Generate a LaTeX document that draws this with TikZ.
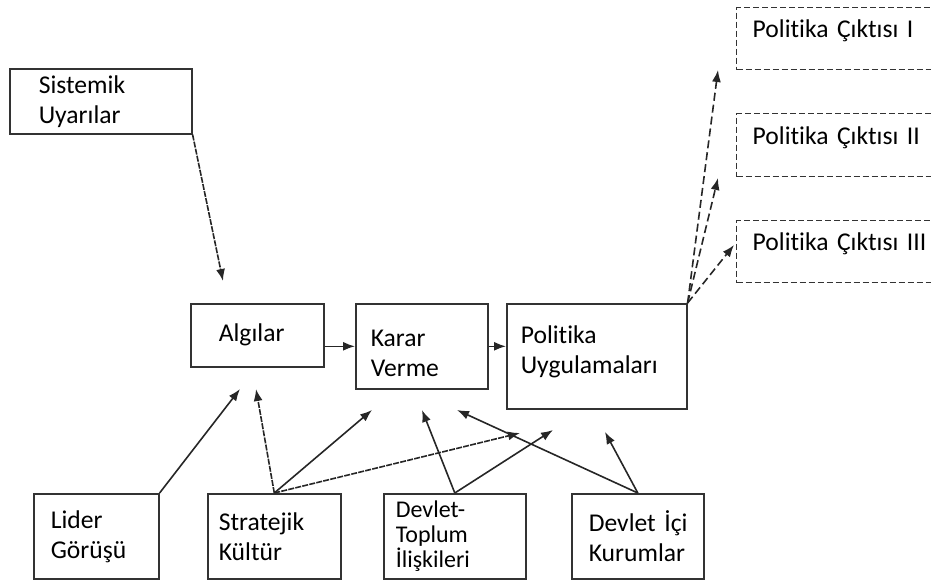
\documentclass[tikz,border=0pt]{standalone}
\usepackage{fontspec}
\setmainfont{Carlito}[Ligatures=NoCommon]
\usetikzlibrary{arrows.meta}

\tikzset{
  kutu/.style={draw=black!80, line width=0.8pt, rectangle, anchor=north west,
               align=left, inner ysep=0pt, font=\fontsize{12.8}{15}\selectfont},
  cikti/.style={kutu, dash pattern=on 3pt off 1.5pt, line width=0.7pt},
  ok/.style={-{Latex[length=6pt,width=4.5pt]}, line width=0.8pt, black!85},
  kesik/.style={ok, dash pattern=on 3pt off 0.6pt},
  cok/.style={ok, dash pattern=on 4pt off 2pt},
}

\begin{document}
\begin{tikzpicture}[x=0.5pt, y=-0.5pt]
  \useasboundingbox (0,0) rectangle (931,584);

  % kutular
  \node [kutu, minimum height=32.5pt, text width=62pt, inner xsep=14.5pt] (su) at (9,68) {Sistemik\\Uyarılar};
  \node [kutu, minimum height=31.5pt, text width=38.5pt, inner xsep=14pt] (al) at (190,303) {Algılar};
  \node [kutu, minimum height=42.5pt, text width=51pt, inner xsep=7.5pt, text height=15pt] (kv) at (355,303) {Karar\\Verme};
  \node [kutu, minimum height=52.5pt, text width=76pt, inner xsep=7pt, text depth=22pt] (pu) at (506,303) {Politika\\Uygulamaları};

  \node [cikti, minimum height=31pt, text width=91pt, inner xsep=8pt, text depth=10pt] (c1) at (736,7) {Politika Çıktısı I};
  \node [cikti, minimum height=31.5pt, text width=91pt, inner xsep=8pt, text depth=10pt] (c2) at (736,113) {Politika Çıktısı II};
  \node [cikti, minimum height=31pt, text width=91pt, inner xsep=8pt, text depth=10pt] (c3) at (736,220) {Politika Çıktısı III};

  \node [kutu, minimum height=42.5pt, text width=45.5pt, inner xsep=8.5pt] (lg) at (33,493) {Lider\\Görüşü};
  \node [kutu, minimum height=42.5pt, text width=55.5pt, inner xsep=5.5pt] (sk) at (207,493) {Stratejik\\Kültür};
  \node [kutu, minimum height=42.5pt, text width=59pt, inner xsep=6pt, font=\fontsize{12}{12.5}\selectfont] (dt) at (383,493) {Devlet-\\Toplum\\İlişkileri};
  \node [kutu, minimum height=42.5pt, text width=49pt, inner xsep=8.5pt] (di) at (571,493) {Devlet~İçi\\Kurumlar};

  % ok uclari
  \coordinate (t-su) at (223,281);
  \coordinate (t-lg) at (240,389);
  \coordinate (t-sk1) at (256,389);
  \coordinate (t-sk2) at (372,410);
  \coordinate (t-sk3) at (520,433);
  \coordinate (t-dt1) at (422,410);
  \coordinate (t-dt2) at (553,430);
  \coordinate (t-di1) at (457,410);
  \coordinate (t-di2) at (605,432);
  \coordinate (t-c1) at (718,70);
  \coordinate (t-c2) at (718,178);
  \coordinate (t-c3) at (734,245);

  % oklar
  \draw [kesik] (su.south east) -- (t-su);
  \draw [ok] (kv.west -| al.east) -- (kv.west);
  \draw [ok] (kv.east) -- (kv.east -| pu.west);

  \foreach \c in {c1,c2,c3}
    \draw [cok] (pu.north east) -- (t-\c);

  \draw [ok] (lg.north east) -- (t-lg);
  \draw [kesik] (sk.north) -- (t-sk1);
  \draw [ok] (sk.north) -- (t-sk2);
  \draw [kesik] (sk.north) -- (t-sk3);
  \draw [ok] (dt.north) -- (t-dt1);
  \draw [ok] (dt.north) -- (t-dt2);
  \draw [ok] (di.north) -- (t-di1);
  \draw [ok] (di.north) -- (t-di2);
\end{tikzpicture}
\end{document}
